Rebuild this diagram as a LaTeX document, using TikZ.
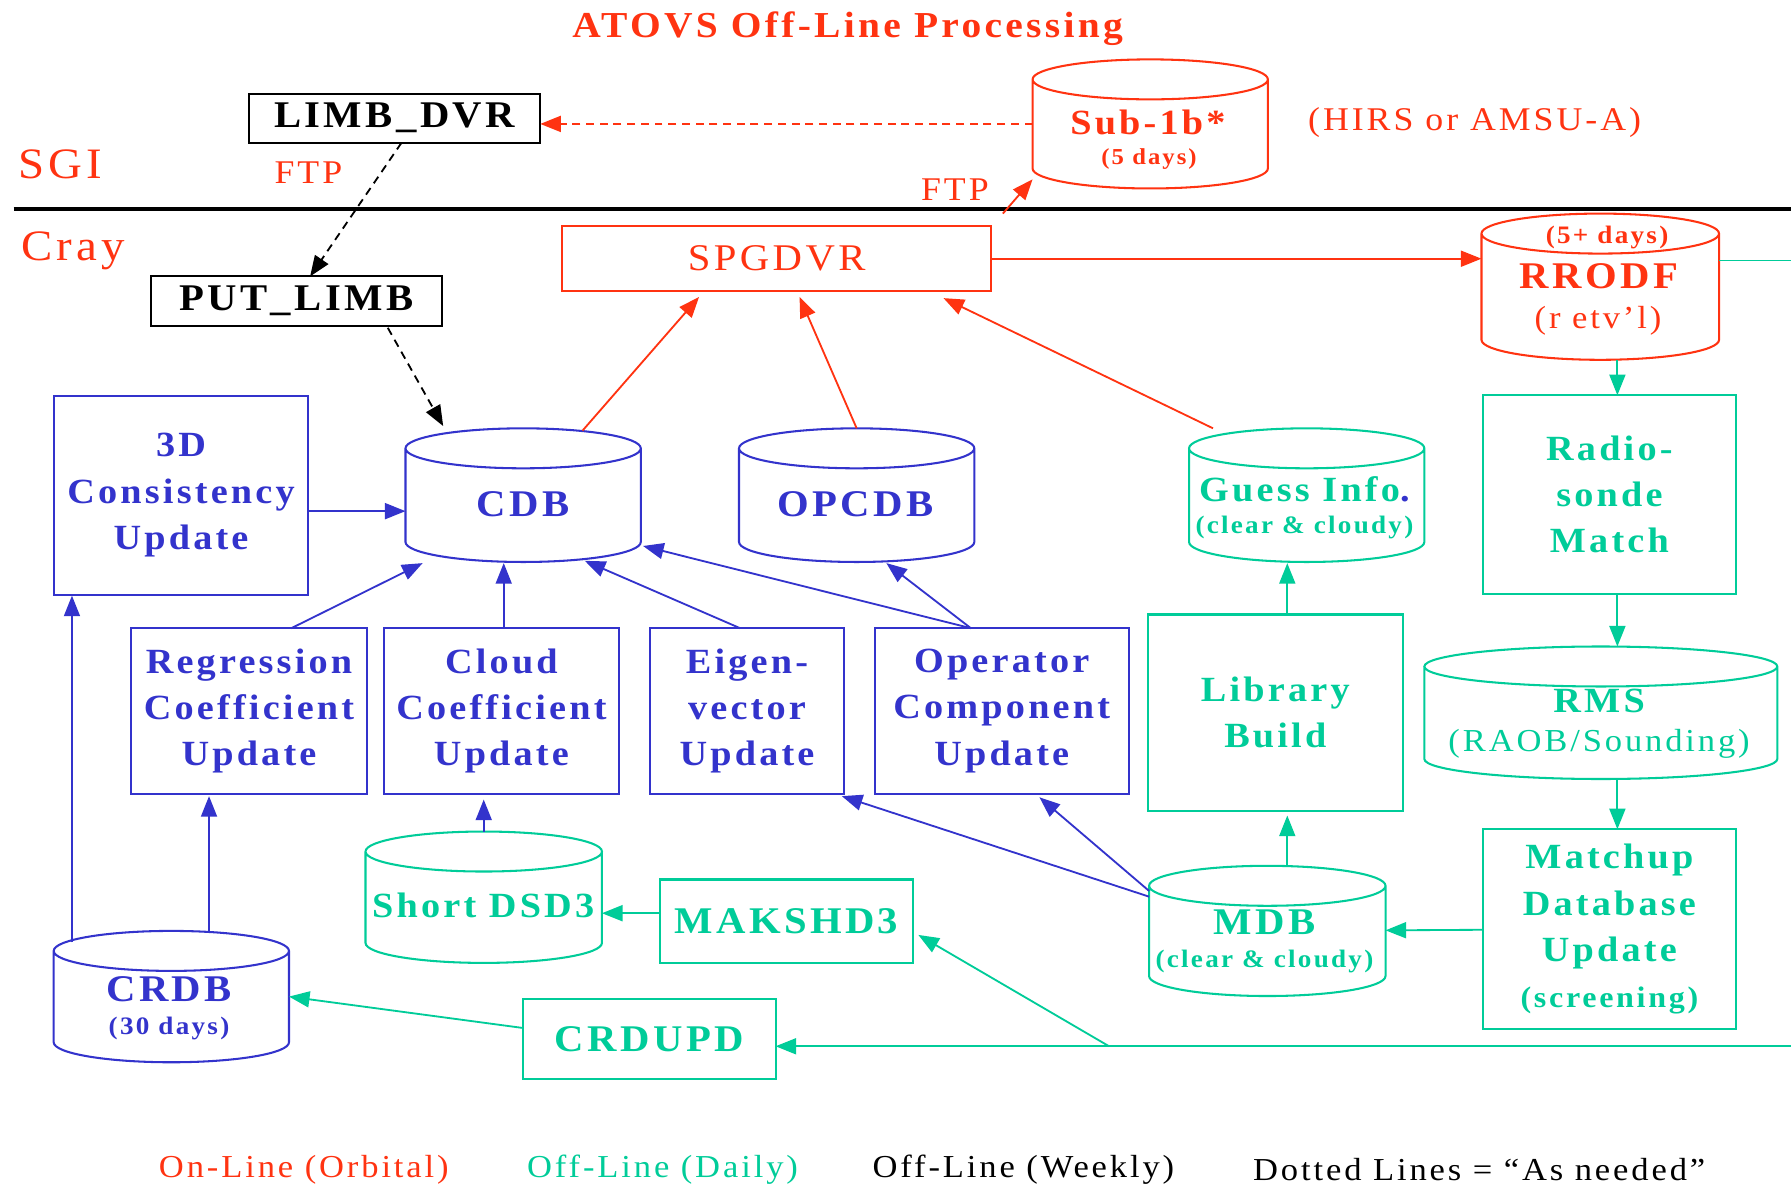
\documentclass[tikz,border=0pt]{standalone}
\usepackage{fontspec}
\setmainfont{Liberation Serif}[LetterSpace=9, FakeStretch=1.08]
\usetikzlibrary{arrows.meta,calc}
\definecolor{cred}{RGB}{255,51,17}
\definecolor{cblue}{RGB}{51,51,204}
\definecolor{cgreen}{RGB}{0,204,153}
\newcommand\myBig{\fontsize{33}{40}\selectfont\bfseries}
\newcommand\myMid{\fontsize{31}{40.5}\selectfont\bfseries}
\newcommand\mySm{\fontsize{22}{26}\selectfont\bfseries}
\newcommand\myReg{\fontsize{28}{32}\selectfont}
\newcommand\myCyl[2]{%
  \draw[#2, line width=1.8pt] let \p1=(#1.north west), \p2=(#1.south east), \p3=($(#1.north)+(0,17.5)$), \n1={(\x2-\x1)/2} in
    ({\x1},{\y1-17.5pt}) -- ({\x1},{\y2+17.5pt}) arc[start angle=180,end angle=360,x radius=\n1,y radius=17.5pt] -- ({\x2},{\y1-17.5pt})
    (\p3) ellipse[x radius=\n1,y radius=17.5pt];}
\begin{document}
\begin{tikzpicture}[x=1pt,y=-1pt,
  box/.style={draw, rectangle, line width=1.8pt, inner sep=0pt, outer sep=0pt, align=center},
  cyln/.style={rectangle, inner sep=0pt, outer sep=0pt},
  lbl/.style={inner sep=0pt, outer sep=0pt, align=center},
  conn/.style={line width=1.6pt, -{Triangle[length=18pt,width=14pt]}},
  dconn/.style={conn, dash pattern=on 7pt off 5pt},
  plain/.style={line width=1.6pt},
]
\fill[white] (0,0) rectangle (1568,1038);
\useasboundingbox (0,0) rectangle (1568,1038);

% headings
\node[lbl, text=cred, font=\fontsize{32}{36}\selectfont\bfseries] (title) at (742,25) {ATOVS Off-Line Processing};
\node[lbl, text=cred, font=\fontsize{38}{40}\selectfont, anchor=base] (sgi) at (53,156) {SGI};
\node[lbl, text=cred, font=\fontsize{38}{40}\selectfont, anchor=base] (cray) at (64,228) {Cray};
\coordinate (sepL) at (12,183);
\coordinate (sepR) at (1568,183);
\draw[line width=4pt] (sepL) -- (sepR);

% SGI side
\node[box, minimum width=255pt, minimum height=43pt, font=\myBig] (limb) at (345.5,103.5) {LIMB\_DVR};
\node[box, minimum width=255pt, minimum height=43pt, font=\myBig] (putlimb) at (259.5,263.5) {PUT\_LIMB};
\node[lbl, text=cred, font=\fontsize{29}{30}\selectfont] (ftpa) at (270,151) {FTP};
\node[lbl, text=cred, font=\fontsize{29}{30}\selectfont] (ftpb) at (836,166) {FTP};
\node[lbl, text=cred, font=\fontsize{29}{30}\selectfont] (hirs) at (1291,107) {(HIRS or AMSU-A)};

\node[cyln, minimum width=206pt, minimum height=113pt] (sub1b) at (1007,108.5) {};
\myCyl{sub1b}{cred}
\node[lbl, text=cred, font=\myMid] (sub1bt) at (1005,107) {Sub-1b*};
\node[lbl, text=cred, font=\fontsize{20}{24}\selectfont\bfseries] (sub1bd) at (1006,139) {(5 days)};

% Cray side, top
\node[box, cred, minimum width=376pt, minimum height=57pt, font=\fontsize{33}{36}\selectfont] (spgdvr) at (680,226.5) {SPGDVR};
\node[cyln, minimum width=208pt, minimum height=128pt] (rrodf) at (1401,251) {};
\myCyl{rrodf}{cred}
\node[lbl, text=cred, font=\mySm] (rrodfa) at (1407,208) {(5+ days)};
\node[lbl, text=cred, font=\myBig] (rrodfb) at (1400,242) {RRODF};
\node[lbl, text=cred, font=\fontsize{28}{30}\selectfont] (rrodfc) at (1399,281) {(r etv’l)};

\node[box, cblue, minimum width=223pt, minimum height=174pt, font=\myMid] (cons3d) at (158.5,433.5) {3D\\Consistency\\Update};
\node[cyln, minimum width=206pt, minimum height=117pt] (cdb) at (458,433.5) {};
\myCyl{cdb}{cblue}
\node[lbl, text=cblue, font=\myBig] (cdbt) at (458,441) {CDB};
\node[cyln, minimum width=206pt, minimum height=117pt] (opcdb) at (750,433.5) {};
\myCyl{opcdb}{cblue}
\node[lbl, text=cblue, font=\myBig] (opcdbt) at (749,441) {OPCDB};
\node[cyln, minimum width=206pt, minimum height=117pt] (guess) at (1144,433.5) {};
\myCyl{guess}{cgreen}
\node[lbl, text=cgreen, font=\myMid] (guesst) at (1142,428) {Guess Info\textcolor{cblue}{.}};
\node[lbl, text=cgreen, font=\mySm] (guessd) at (1142,462) {(clear \& cloudy)};
\node[box, cgreen, minimum width=222pt, minimum height=174pt, font=\myMid] (radio) at (1409,433) {Radio-\\sonde\\Match};

% middle row
\node[box, cblue, minimum width=206pt, minimum height=145pt, font=\myMid] (regr) at (218,622.5) {Regression\\Coefficient\\Update};
\node[box, cblue, minimum width=206pt, minimum height=145pt, font=\myMid] (cloud) at (439,622.5) {Cloud\\Coefficient\\Update};
\node[box, cblue, minimum width=170pt, minimum height=145pt, font=\myMid] (eigen) at (654,622.5) {Eigen-\\vector\\Update};
\node[box, cblue, minimum width=222pt, minimum height=145pt, font=\myMid] (oper) at (877,622.5) {Operator\\Component\\Update};
\node[box, cgreen, minimum width=223pt, minimum height=172pt, font=\myMid] (lib) at (1116.5,624) {Library\\Build};
\node[cyln, minimum width=309pt, minimum height=116pt] (rms) at (1401.5,624) {};
\myCyl{rms}{cgreen}
\node[lbl, text=cgreen, font=\myMid] (rmst) at (1400,614) {RMS};
\node[lbl, text=cgreen, font=\myReg] (rmsd) at (1400,651) {(RAOB/Sounding)};

% bottom
\node[box, cgreen, minimum width=222pt, minimum height=175pt, font=\myMid] (matchup) at (1409,813.5) {Matchup\\Database\\Update\\{\fontsize{26}{30}\selectfont(screening)}};
\node[cyln, minimum width=207pt, minimum height=114pt] (mdb) at (1109.5,815) {};
\myCyl{mdb}{cgreen}
\node[lbl, text=cgreen, font=\myBig] (mdbt) at (1107,807) {MDB};
\node[lbl, text=cgreen, font=\mySm] (mdbd) at (1107,842) {(clear \& cloudy)};
\node[cyln, minimum width=207pt, minimum height=115pt] (short) at (423.5,785.5) {};
\myCyl{short}{cgreen}
\node[lbl, text=cgreen, font=\myMid] (shortt) at (423,793) {Short DSD3};
\node[box, cgreen, minimum width=221pt, minimum height=73pt, font=\myBig] (makshd3) at (688.5,806.5) {MAKSHD3};
\node[box, cgreen, minimum width=221pt, minimum height=70pt, font=\myBig] (crdupd) at (568.5,910) {CRDUPD};
\node[cyln, minimum width=206pt, minimum height=115pt] (crdb) at (150,872.5) {};
\myCyl{crdb}{cblue}
\node[lbl, text=cblue, font=\myBig] (crdbt) at (148,866) {CRDB};
\node[lbl, text=cblue, font=\mySm] (crdbd) at (148,900) {(30 days)};

% legend
\node[lbl, text=cred, font=\myReg] (lega) at (266,1024) {On-Line (Orbital)};
\node[lbl, text=cgreen, font=\myReg] (legb) at (580,1024) {Off-Line (Daily)};
\node[lbl, text=black, font=\myReg] (legc) at (896,1024) {Off-Line (Weekly)};
\node[lbl, text=black, font=\myReg] (legd) at (1295,1024) {Dotted Lines = “As needed”};

% connectors
\draw[dconn, black] ($(limb.south)+(6,0)$) -- ($(putlimb.north)+(12,0)$);
\draw[dconn, black] ($(putlimb.south)+(80,2)$) -- ($(cdb.north)+(-70,-2)$);
\draw[dconn, cred] (sub1b.west) -- (sub1b.west -| limb.east);
\draw[conn, cred] ($(spgdvr.north east)+(10,-11)$) -- ($(sub1b.south west)+(0,-8)$);
\draw[conn, cred] (spgdvr.east) -- (spgdvr.east -| rrodf.west);
\coordinate (edgeR) at (1568,228);
\draw[plain, cgreen] (rrodf.east |- edgeR) -- (edgeR);
\draw[conn, cgreen] ($(rrodf.south)+(15,0)$) -- ($(radio.north)+(7,0)$);
\draw[conn, cred] ($(cdb.north)+(52,2)$) -- ($(spgdvr.south)+(-68,5)$);
\draw[conn, cred] (opcdb.north) -- ($(spgdvr.south)+(20,5)$);
\draw[conn, cred] ($(guess.north)+(-82,0)$) -- ($(spgdvr.south)+(146,6)$);
\draw[conn, cblue] ($(cons3d.east)+(0,14)$) -- ($(cdb.west)+(0,14)$);
\draw[conn, cblue] ($(regr.north)+(37,0)$) -- ($(cdb.south)+(-88,1)$);
\draw[conn, cblue] ($(cloud.north)+(2,0)$) -- ($(cdb.south)+(-17,1)$);
\draw[conn, cblue] ($(eigen.north)+(-6,0)$) -- ($(cdb.south)+(54,-1)$);
\draw[conn, cblue] ($(oper.north)+(-27,0)$) -- ($(cdb.south east)+(2,-14)$);
\draw[conn, cblue] ($(oper.north)+(-27,0)$) -- ($(opcdb.south)+(26,1)$);
\draw[conn, cgreen] ($(lib.north)+(10.5,0)$) -- ($(guess.south)+(-17,1)$);
\draw[conn, cgreen] ($(radio.south)+(7,0)$) -- ($(rms.north)+(14.5,0)$);
\draw[conn, cgreen] ($(rms.south)+(14.5,0)$) -- ($(matchup.north)+(7,0)$);
\draw[conn, cgreen] ($(matchup.west)+(0,0.5)$) -- ($(mdb.east)+(0,-0.5)$);
\draw[conn, cgreen] ($(mdb.north)+(17.5,0)$) -- ($(lib.south)+(10.5,4)$);
\draw[conn, cblue] ($(mdb.north west)+(0,22)$) -- ($(oper.south)+(33,3)$);
\draw[conn, cblue] ($(mdb.north west)+(0,27)$) -- ($(eigen.south east)+(-2,2)$);
\draw[conn, cblue] (short.north) -- ($(cloud.south)+(-15.5,5)$);
\draw[conn, cgreen] ($(makshd3.west)+(0,-7)$) -- ($(short.east)+(0,14)$);
\coordinate (edgeB) at (1568,916);
\coordinate (br) at (971,916);
\draw[conn, cgreen] (edgeB) -- ($(crdupd.east)+(0,6)$);
\draw[conn, cgreen] (br) -- ($(makshd3.east)+(5,12)$);
\draw[conn, cgreen] ($(crdupd.west)+(0,-10)$) -- (crdb.east);
\draw[conn, cblue] ($(crdb.north west)+(16,10)$) -- ($(cons3d.south west)+(16,1)$);
\draw[conn, cblue] ($(crdb.north)+(33,0)$) -- ($(regr.south)+(-35,2)$);
\end{tikzpicture}
\end{document}
